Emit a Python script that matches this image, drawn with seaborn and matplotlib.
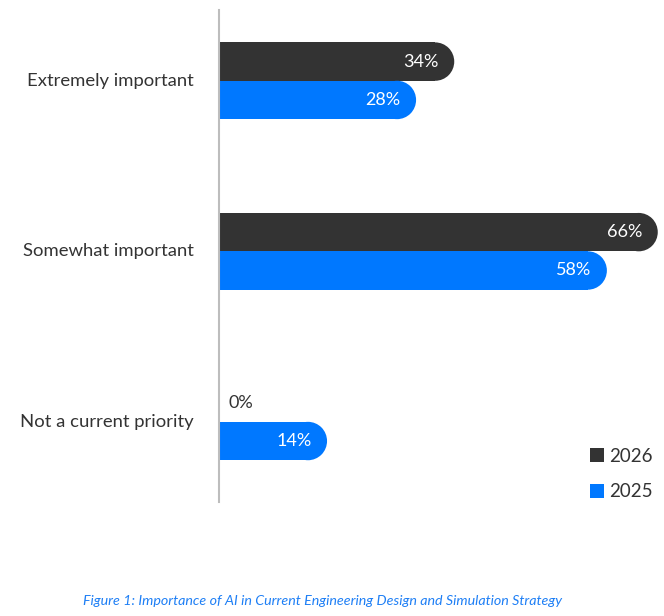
import matplotlib
matplotlib.use("Agg")
import matplotlib.pyplot as plt
from matplotlib.patches import Ellipse, Patch
import seaborn as sns
import pandas as pd

categories = ["Extremely important", "Somewhat important", "Not a current priority"]
years = ["2026", "2025"]
values_2026 = [34, 66, 0]
values_2025 = [28, 58, 14]
caption = "Figure 1: Importance of AI in Current Engineering Design and Simulation Strategy"

colors = {"2026": "#333333", "2025": "#0078FF"}
text_color = "#333333"

df = pd.DataFrame({
    "category": categories * 2,
    "year": [years[0]] * 3 + [years[1]] * 3,
    "value": values_2026 + values_2025,
})

sns.set_style("white")
plt.rcParams["font.family"] = ["Lato", "DejaVu Sans"]

W, H = 664, 616
fig = plt.figure(figsize=(W / 100, H / 100), dpi=100)
ax_left, ax_right = 219, 664
ax_top, ax_bot = 10, 502
ax = fig.add_axes([ax_left / W, (H - ax_bot) / H, (ax_right - ax_left) / W, (ax_bot - ax_top) / H])

sns.barplot(data=df, y="category", x="value", hue="year", hue_order=years,
            order=categories, palette=colors, width=0.45, orient="h",
            ax=ax, legend=False, saturation=1)

px_per_unit = 6.36
xmax = (ax_right - ax_left) / px_per_unit
ax.set_xlim(0, xmax)
ax.set_ylim(2.47, -0.415)

cap_r_px = 19
cap_w_data = 2 * cap_r_px / px_per_unit

for container, yr in zip(ax.containers, years):
    for patch, v in zip(container.patches, df[df["year"] == yr]["value"]):
        patch.set_linewidth(0)
        y = patch.get_y()
        h = patch.get_height()
        yc = y + h / 2
        if v > 0:
            e = Ellipse((v, yc), width=cap_w_data, height=h, facecolor=colors[yr],
                        edgecolor="none", clip_on=False, zorder=patch.get_zorder())
            ax.add_patch(e)
            ax.annotate(f"{v}%", xy=(v, yc), xytext=(2.5, 0), textcoords="offset points",
                        ha="right", va="center", color="white", fontsize=13,
                        annotation_clip=False)
        else:
            ax.annotate(f"{v}%", xy=(0, yc), xytext=(7, 0), textcoords="offset points",
                        ha="left", va="center", color=text_color, fontsize=13)

for s in ["top", "right", "bottom"]:
    ax.spines[s].set_visible(False)
ax.spines["left"].set_color("#bdbdbd")
ax.spines["left"].set_linewidth(1.5)
ax.set_xticks([])
ax.set_xlabel("")
ax.set_ylabel("")
ax.tick_params(axis="y", length=0, pad=18, labelsize=13.3, labelcolor=text_color)
for lbl in ax.get_yticklabels():
    lbl.set_va("bottom")
    lbl.set_y(lbl.get_position()[1])
ax.set_yticks(range(len(categories)), categories, va="center")

handles = [Patch(facecolor=colors[y], edgecolor="none", label=y) for y in years]
fig.legend(handles=handles, loc="upper left", bbox_to_anchor=(582 / W, 1 - 440 / H),
           frameon=False, handlelength=0.75, handleheight=0.75, handletextpad=0.3,
           labelspacing=1.0, fontsize=13.5, labelcolor=text_color, borderaxespad=0)

fig.text(323 / W, 1 - 601 / H, caption, ha="center", va="center", style="italic",
         color="#1E7FF5", fontsize=10.3)

fig.savefig("out.png", dpi=100)
